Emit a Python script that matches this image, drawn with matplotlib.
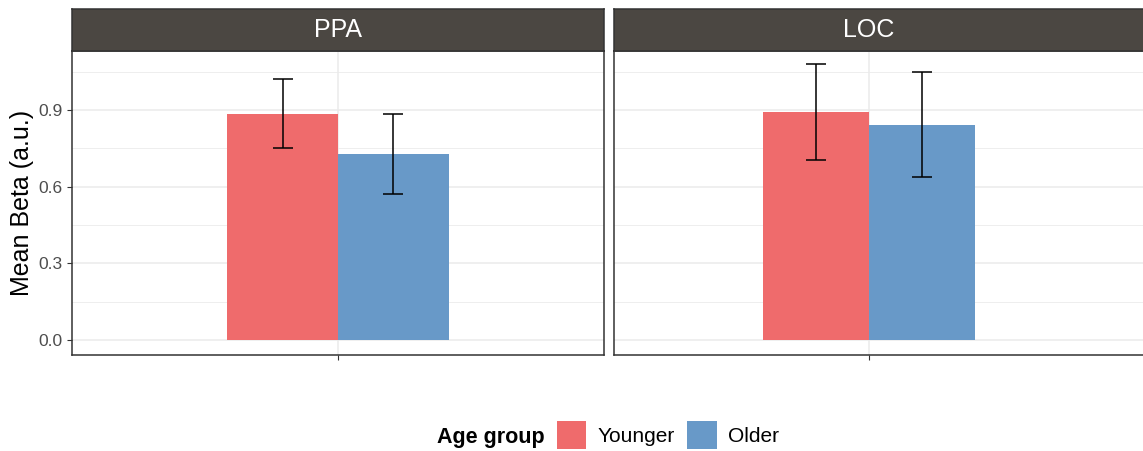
import matplotlib
matplotlib.use("Agg")
import matplotlib.pyplot as plt
from matplotlib.patches import Patch

plt.rcParams['font.family'] = ['Liberation Sans', 'DejaVu Sans']

# mean beta per region and age group, with error bar half-widths
regions = ["PPA", "LOC"]
groups = ["Younger", "Older"]
mean_younger = [0.886, 0.893]
mean_older = [0.728, 0.842]
err_younger = [0.135, 0.187]
err_older = [0.155, 0.206]
colours = ["#EF6B6C", "#6899C8"]
yticks = [0.0, 0.3, 0.6, 0.9]
yminor = [0.15, 0.45, 0.75, 1.05]

W, H = 1143, 451
fig = plt.figure(figsize=(W / 100, H / 100), dpi=100)

def px_box(left, right, top, bottom):
    # figure-fraction rectangle from pixel edges
    return [left / W, (H - bottom) / H, (right - left) / W, (bottom - top) / H]

# panel edges in pixels, and x limits of each panel
panels = [(72, 604, (0.4, 1.6)), (614, 1150, (0.4, 1.661))]
edge = "#333333"
bar_w = 0.25

for i, (left, right, xlim) in enumerate(panels):
    ax = fig.add_axes(px_box(left, right, 51, 355))
    ys = [mean_younger[i], mean_older[i]]
    es = [err_younger[i], err_older[i]]
    xs = [1 - bar_w / 2, 1 + bar_w / 2]
    ax.bar(xs, ys, width=bar_w, color=colours, zorder=2)
    ax.errorbar(xs, ys, yerr=es, fmt="none", ecolor="black", elinewidth=1.1,
                capsize=7.5, capthick=1.1, zorder=3)
    ax.set_xlim(*xlim)
    ax.set_ylim(-0.0587, 1.131)
    ax.set_yticks(yticks)
    ax.set_yticks(yminor, minor=True)
    ax.set_xticks([1])
    ax.set_xticklabels([""])
    ax.grid(True, which="major", color="#EBEBEB", lw=1.1, zorder=0)
    ax.grid(True, which="minor", axis="y", color="#EBEBEB", lw=0.6, zorder=0)
    ax.set_axisbelow(True)
    for s in ax.spines.values():
        s.set_color(edge)
        s.set_linewidth(1.1)
    ax.tick_params(axis="both", which="major", color=edge, length=3.5, width=0.8,
                   labelcolor="#4D4D4D", labelsize=12.5, pad=3)
    ax.tick_params(axis="y", which="minor", length=0)
    if i == 0:
        ax.set_yticklabels([f"{t:.1f}" for t in yticks])
    else:
        ax.tick_params(axis="y", which="major", length=0, labelleft=False)

    # facet strip
    sx = fig.add_axes(px_box(left, right, 8.5, 51))
    sx.set_facecolor("#4B4742")
    sx.set_xticks([])
    sx.set_yticks([])
    for s in sx.spines.values():
        s.set_color(edge)
        s.set_linewidth(1.1)
    sx.text((1 - xlim[0]) / (xlim[1] - xlim[0]), 0.5, regions[i], color="white",
            fontsize=18, ha="center", va="center", transform=sx.transAxes)

fig.text(22 / W, (H - 203) / H, "Mean Beta (a.u.)", rotation=90, fontsize=18,
         ha="center", va="center", color="black")

# legend along the bottom
fig.text(437 / W, (H - 437) / H, "Age group", fontsize=15.5, fontweight="bold",
         ha="left", va="center")
handles = [Patch(facecolor=c, edgecolor="none", label=g) for c, g in zip(colours, groups)]
fig.legend(handles=handles, loc="center left", bbox_to_anchor=(557 / W, (H - 435) / H),
           ncol=2, frameon=False, fontsize=15, handlelength=1.4, handleheight=1.75,
           handletextpad=0.55, columnspacing=0.6, borderpad=0, borderaxespad=0)

fig.savefig("out.png", dpi=100)
